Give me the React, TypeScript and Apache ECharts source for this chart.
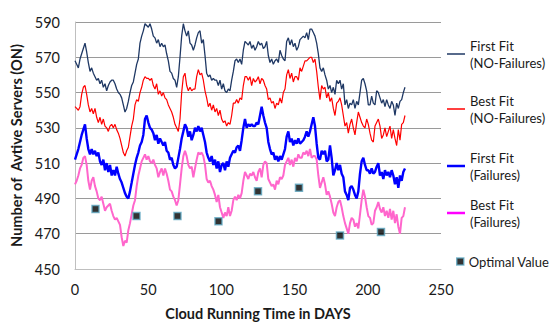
import { useEffect, useRef } from "react";
import * as echarts from "echarts";

// Sample spacing of the series along the day axis
const DAY_STEP = 1.1384;

const firstFitNoFail = [
  568, 566, 564, 569, 572, 575, 578, 573, 567, 562, 564, 561, 559, 557, 558, 555, 557, 553, 555, 551,
  554, 556, 557, 557, 555, 552, 550, 549, 547, 543, 539, 541, 545, 550, 554, 556, 561, 566, 569, 578,
  582, 585, 589, 588, 587, 589, 586, 582, 581, 578, 580, 576, 578, 576, 577, 572, 568, 562, 561, 558,
  557, 553, 559, 570, 582, 589, 585, 582, 585, 578, 577, 574, 577, 581, 584, 585, 578, 580, 571, 561,
  559, 560, 557, 558, 557, 557, 554, 557, 552, 555, 551, 550, 552, 551, 557, 562, 568, 569, 567, 569,
  566, 574, 579, 578, 577, 579, 575, 577, 574, 576, 579, 577, 578, 575, 576, 579, 571, 567, 569, 566,
  568, 569, 567, 574, 571, 569, 568, 579, 581, 577, 580, 576, 578, 574, 576, 580, 581, 582, 581, 584,
  580, 586, 586, 584, 582, 578, 572, 564, 562, 564, 560, 557, 552, 554, 550, 553, 549, 557, 555, 557,
  552, 555, 543, 546, 541, 544, 543, 546, 541, 545, 543, 550, 557, 558, 555, 551, 543, 543, 548, 544,
  543, 551, 550, 547, 544, 546, 542, 546, 543, 541, 545, 543, 537, 544, 541, 545, 546, 550, 553,
];

const bestFitNoFail = [
  542, 541, 540, 542, 549, 553, 554, 549, 543, 539, 541, 538, 541, 536, 533, 536, 532, 535, 531, 530,
  528, 531, 532, 530, 532, 529, 527, 524, 520, 516, 514, 517, 519, 525, 531, 535, 543, 546, 545, 550,
  553, 557, 559, 558, 558, 557, 558, 554, 552, 555, 549, 551, 548, 550, 547, 546, 543, 541, 539, 536,
  532, 530, 528, 535, 550, 559, 561, 554, 551, 553, 551, 552, 552, 559, 563, 560, 561, 557, 551, 547,
  542, 544, 540, 543, 539, 541, 537, 540, 535, 533, 534, 531, 533, 532, 537, 544, 544, 546, 544, 547,
  546, 554, 559, 559, 557, 559, 554, 558, 556, 557, 559, 555, 558, 557, 554, 552, 546, 547, 544, 545,
  541, 544, 543, 547, 544, 550, 552, 560, 563, 558, 561, 556, 559, 559, 557, 564, 562, 565, 568, 568,
  569, 570, 570, 567, 569, 562, 553, 546, 554, 552, 553, 547, 550, 545, 547, 541, 537, 544, 545, 547,
  543, 537, 531, 533, 527, 532, 535, 530, 526, 533, 539, 536, 533, 531, 530, 535, 532, 527, 523, 522,
  531, 533, 535, 531, 524, 526, 530, 525, 528, 531, 524, 529, 524, 520, 529, 523, 532, 533, 537,
];

const firstFitFail = [
  512, 515, 518, 522, 526, 529, 532, 524, 518, 515, 518, 515, 517, 514, 516, 511, 509, 512, 506, 510,
  505, 509, 503, 506, 503, 508, 504, 501, 499, 496, 493, 491, 490, 494, 499, 504, 509, 513, 516, 520,
  522, 526, 535, 537, 533, 530, 529, 527, 523, 526, 521, 524, 522, 520, 522, 517, 516, 512, 513, 509,
  507, 508, 513, 518, 524, 528, 532, 530, 525, 528, 523, 526, 530, 528, 531, 528, 530, 526, 522, 516,
  513, 511, 514, 509, 512, 507, 511, 505, 509, 510, 506, 511, 508, 513, 515, 517, 516, 519, 520, 517,
  523, 530, 535, 530, 532, 531, 532, 531, 531, 533, 532, 537, 542, 537, 533, 530, 522, 518, 515, 516,
  512, 514, 511, 514, 512, 515, 518, 525, 528, 522, 524, 520, 523, 521, 524, 521, 522, 523, 525, 528,
  525, 528, 532, 536, 531, 521, 513, 512, 517, 515, 517, 511, 512, 520, 513, 503, 506, 510, 506, 509,
  504, 502, 494, 492, 489, 496, 497, 495, 492, 490, 494, 504, 511, 513, 509, 506, 506, 504, 507, 504,
  505, 508, 510, 503, 505, 501, 506, 503, 505, 502, 506, 503, 498, 502, 496, 503, 500, 505, 507,
];

const bestFitFail = [
  498, 500, 503, 507, 509, 513, 514, 509, 500, 495, 500, 502, 497, 494, 490, 489, 491, 487, 483, 485,
  486, 487, 483, 480, 478, 479, 477, 475, 468, 463, 466, 465, 472, 476, 481, 486, 489, 497, 503, 507,
  511, 513, 515, 512, 514, 511, 510, 512, 509, 507, 502, 505, 507, 503, 507, 504, 500, 495, 494, 491,
  489, 486, 489, 498, 507, 514, 517, 514, 509, 507, 508, 502, 507, 512, 516, 515, 516, 514, 509, 501,
  499, 500, 497, 495, 492, 488, 492, 485, 482, 479, 482, 480, 485, 480, 483, 489, 491, 489, 492, 490,
  493, 500, 505, 503, 501, 504, 503, 505, 502, 500, 505, 507, 502, 509, 511, 510, 501, 499, 497, 498,
  495, 500, 498, 502, 501, 503, 509, 511, 513, 509, 512, 508, 513, 511, 515, 513, 513, 516, 515, 517,
  514, 518, 513, 514, 514, 512, 503, 496, 499, 502, 498, 492, 494, 491, 487, 482, 480, 485, 488, 489,
  485, 480, 476, 473, 470, 476, 479, 478, 474, 476, 473, 481, 489, 495, 491, 485, 480, 479, 475, 476,
  483, 485, 488, 484, 482, 485, 480, 483, 479, 484, 478, 483, 476, 481, 474, 470, 479, 480, 485,
];

const optimalDays = [14, 42, 70, 98, 125, 153, 181, 209];
const optimalValues = [484, 480, 480, 477, 494, 496, 469, 471];

const days = firstFitNoFail.map((_, i) => Math.round(i * DAY_STEP * 100) / 100);

const xTicks = [0, 50, 100, 150, 200, 250];
const yTicks = [450, 470, 490, 510, 530, 550, 570, 590];

const seriesNames = [
  "First Fit (NO-Failures)",
  "Best Fit (NO-Failures)",
  "First Fit (Failures)",
  "Best Fit (Failures)",
  "Optimal Value",
];

const FONT = "Lato, 'Open Sans', sans-serif";
const TXT = "#1a1a1a";

function lineSeries(name: string, values: number[], color: string, width: number, z: number) {
  return {
    type: "line",
    name,
    data: values.map((v, i) => [days[i], v]),
    showSymbol: false,
    symbol: "none",
    lineStyle: { color, width },
    itemStyle: { color },
    z,
  };
}

function legendBox(name: string, top: number, left: number, w: number, h: number, color: string, extra: any = {}) {
  return {
    orient: "vertical",
    left,
    top,
    padding: 0,
    itemWidth: w,
    itemHeight: h,
    itemGap: 0,
    selectedMode: false,
    data: [{ name, icon: "rect", itemStyle: { color, ...extra } }],
    formatter: (n: string) => n.replace(" (", "\n("),
    textStyle: { fontFamily: FONT, fontSize: 13, color: TXT, lineHeight: 17 },
  };
}

export default function App() {
  const ref = useRef<HTMLDivElement>(null);
  useEffect(() => {
    const chart = echarts.init(ref.current!, null, { renderer: "svg" });
    const yMin = yTicks[0];
    const yMax = yTicks[yTicks.length - 1];
    const yStep = (yTicks[1] - yTicks[0]) / 2;
    chart.setOption({
      animation: false,
      backgroundColor: "#ffffff",
      textStyle: { fontFamily: FONT },
      grid: { left: 75, top: 22, width: 366, height: 250, containLabel: false },
      xAxis: {
        type: "value",
        min: xTicks[0],
        max: xTicks[xTicks.length - 1],
        interval: xTicks[1] - xTicks[0],
        axisLine: { show: true, lineStyle: { color: "#bfbfbf", width: 1 } },
        axisTick: { show: false },
        splitLine: { show: false },
        axisLabel: { fontFamily: FONT, fontSize: 14.5, color: TXT, margin: 13 },
        name: "Cloud Running Time in DAYS",
        nameLocation: "middle",
        nameGap: 37,
        nameTextStyle: { fontFamily: FONT, fontSize: 14.5, fontWeight: "bold", color: TXT },
      },
      yAxis: {
        type: "value",
        min: yMin,
        max: yMax,
        interval: yStep,
        axisLine: { show: true, lineStyle: { color: "#bfbfbf", width: 1 } },
        axisTick: { show: false },
        splitLine: {
          show: true,
          lineStyle: { color: ["#9a9a9a", "rgba(0,0,0,0)"], width: 1 },
        },
        axisLabel: {
          fontFamily: FONT,
          fontSize: 14.5,
          color: TXT,
          margin: 15,
          formatter: (v: number) => (yTicks.includes(v) ? String(v) : ""),
        },
        name: "Number of  Avtive Servers (ON)",
        nameLocation: "middle",
        nameGap: 50,
        nameTextStyle: { fontFamily: FONT, fontSize: 14.5, fontWeight: "bold", color: TXT },
      },
      legend: [
        legendBox(seriesNames[0], 37, 447, 18, 1.5, "#1f3864"),
        legendBox(seriesNames[1], 92, 447, 18, 1.5, "#ff0000"),
        legendBox(seriesNames[2], 149, 447, 18, 2.5, "#0000ff"),
        legendBox(seriesNames[3], 196, 447, 18, 2.5, "#ff00ff"),
        legendBox(seriesNames[4], 253, 456, 7, 7, "#000000", { borderColor: "#5fa8c2", borderWidth: 1.5 }),
      ],
      series: [
        lineSeries(seriesNames[0], firstFitNoFail, "#1f3864", 1.3, 2),
        lineSeries(seriesNames[1], bestFitNoFail, "#ff0000", 1.2, 3),
        lineSeries(seriesNames[2], firstFitFail, "#0000ff", 2.4, 4),
        lineSeries(seriesNames[3], bestFitFail, "#ff66cc", 2, 5),
        {
          type: "scatter",
          name: seriesNames[4],
          data: optimalDays.map((d, i) => [d, optimalValues[i]]),
          symbol: "rect",
          symbolSize: 7,
          itemStyle: { color: "#000000", borderColor: "#5fa8c2", borderWidth: 1.5 },
          z: 6,
        },
      ],
    });
    return () => chart.dispose();
  }, []);
  return (
    <div
      ref={ref}
      style={{ position: "absolute", left: 0, top: 0, width: 553, height: 326 }}
    />
  );
}
